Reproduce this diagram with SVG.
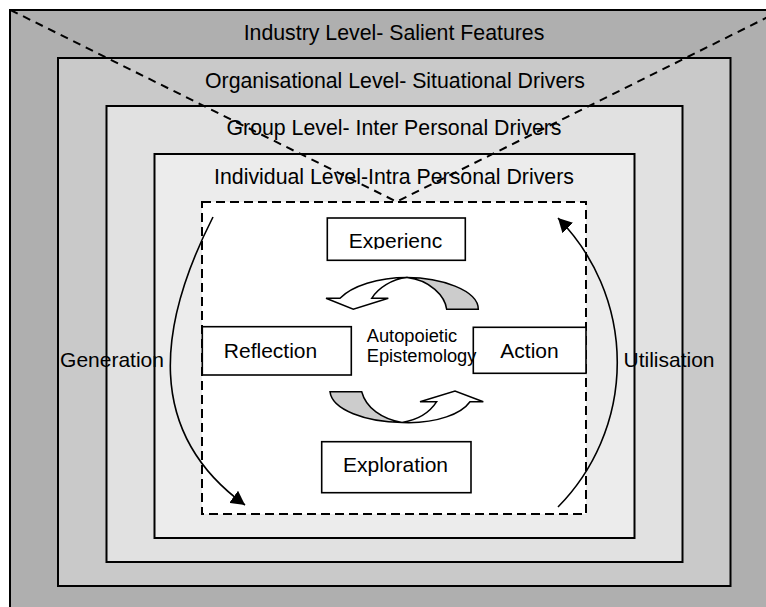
<svg xmlns="http://www.w3.org/2000/svg" width="766" height="607" viewBox="0 0 766 607">
<style>
text{font-family:"Liberation Sans",Arial,sans-serif;fill:#000}
.lvl{font-size:21.3px;text-anchor:middle}
.nd{font-size:21px;text-anchor:middle}
.box{stroke:#000;stroke-width:2}
.nbox{fill:#fff;stroke:#000;stroke-width:1.6}
.dash{fill:none;stroke:#000;stroke-width:2;stroke-dasharray:8,6}
.arc{fill:none;stroke:#000;stroke-width:1.6}
.blk{stroke:#000;stroke-width:1.5;stroke-linejoin:miter}
</style>
<defs>
<marker id="ah" viewBox="0 0 14 15" markerWidth="14" markerHeight="15" refX="14" refY="7.5" orient="auto" markerUnits="userSpaceOnUse">
<path d="M0,0 L14,7.5 L0,15 z" fill="#000"/>
</marker>
<clipPath id="expclip"><rect x="327" y="218" width="139" height="31.3"/></clipPath>
</defs>
<rect width="766" height="607" fill="#fff"/>
<g id="industry">
<rect class="box" x="10" y="10" width="772" height="610" fill="#afafaf"/>
<text class="lvl" x="394" y="40">Industry Level- Salient Features</text>
</g>
<g id="organisational">
<rect class="box" x="58" y="58" width="672.5" height="528" fill="#c9c9c9"/>
<text class="lvl" x="395" y="87.5">Organisational Level- Situational Drivers</text>
</g>
<g id="group">
<rect class="box" x="106.5" y="106" width="576" height="456" fill="#e1e1e1"/>
<text class="lvl" x="394" y="135">Group Level- Inter Personal Drivers</text>
</g>
<g id="individual">
<rect class="box" x="154.5" y="154" width="480" height="384" fill="#ececec"/>
<text class="lvl" x="394" y="184">Individual Level-Intra Personal Drivers</text>
</g>
<g id="diagonals">
<path class="dash" d="M10.5,10 L396.7,201.7 L782,10"/>
</g>
<g id="epistemology-frame">
<rect x="202" y="202" width="384" height="312" fill="#fff" stroke="#000" stroke-width="2" stroke-dasharray="9,5"/>
</g>
<g id="experience">
<rect class="nbox" x="327.3" y="218" width="138" height="42.3"/>
<text class="nd" x="395.5" y="248.3" clip-path="url(#expclip)">Experienc</text>
</g>
<g id="reflection">
<rect class="nbox" x="202.3" y="326.7" width="149" height="48.3"/>
<text class="nd" x="270.5" y="357.7">Reflection</text>
</g>
<g id="action">
<rect class="nbox" x="473.3" y="327.3" width="112.7" height="46"/>
<text class="nd" x="529.5" y="357.7">Action</text>
</g>
<g id="exploration">
<rect class="nbox" x="321.7" y="441.7" width="149.3" height="51"/>
<text class="nd" x="395.5" y="471.7">Exploration</text>
</g>
<g id="autopoietic">
<text x="366.7" y="341.7" font-size="18.3">Autopoietic</text>
<text x="366.7" y="361.7" font-size="18.3">Epistemology</text>
</g>
<g id="generation-label"><text class="nd" x="112" y="366.7">Generation</text></g>
<g id="utilisation-label"><text class="nd" x="669" y="366.7">Utilisation</text></g>
<g id="connectors">
<path class="arc" d="M213,217 C158,325 144,432 245,505" marker-end="url(#ah)"/>
<path class="arc" d="M558,507 A205.8,205.8 0 0 0 558,218" marker-end="url(#ah)"/>
<path class="blk" fill="#cccccc" d="M407,277.5 C440,277.5 478.3,290 478.3,309.3 L446.7,309.3 C445,296 430,280 407,277.5 z"/>
<path class="blk" fill="#fff" d="M407,277.5 C378,277.5 352,286 340,298.3 L326,298.3 L353.3,309.3 L388.3,298.3 L371.7,298.3 C378,288 392,279 407,277.5 z"/>
<path class="blk" fill="#cccccc" d="M330,391.7 L361.7,391.7 C366,408 382,419 402,422.5 C366,422 332,410 330,391.7 z"/>
<path class="blk" fill="#fff" d="M402,422.5 C438,424 462,413 470,401.7 L483.3,401.7 L455,391 L420,401.7 L436.7,401.7 C430,412 418,420 402,422.5 z"/>
</g>
</svg>
